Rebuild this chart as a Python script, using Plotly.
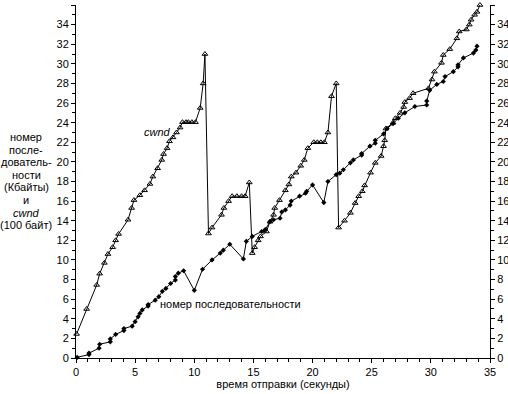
import plotly.graph_objects as go

cwnd_t = [0.05, 0.9, 1.75, 2.0, 2.4, 2.7, 3.1, 3.35, 3.6, 4.4, 4.7, 4.9, 5.4, 5.8, 6.25, 6.5,
          6.9, 7.25, 7.4, 7.7, 7.9, 8.2, 8.5, 8.8, 9.0, 9.3, 9.5, 9.8, 10.1, 10.5, 10.75, 10.9,
          11.2, 11.5, 12.3, 12.5, 12.9, 13.2, 13.6, 14.0, 14.3, 14.65,
          14.9, 15.1, 15.4, 15.6, 16.1, 16.4, 16.7, 16.8, 17.2, 17.7, 18.0, 18.2, 18.6, 19.0,
          19.3, 19.6, 20.1, 20.4, 20.7, 21.0, 21.3, 21.6, 22.0,
          22.2, 22.7, 23.2, 23.6, 23.9, 24.2, 24.4, 24.9, 25.3, 25.8, 26.0, 26.1, 26.2, 26.8,
          27.0, 27.4, 27.7, 27.8, 28.2, 28.5, 29.8, 30.1, 30.3, 30.9, 31.05, 31.6, 32.2, 32.4,
          33.0, 33.25, 33.4, 33.7, 33.9, 34.15]
cwnd_v = [2.45, 5.0, 7.45, 8.6, 9.7, 10.6, 11.3, 12.0, 12.65, 14.1, 15.3, 16.1, 16.6, 17.1, 17.75, 18.5,
          19.35, 20.2, 20.8, 21.4, 22.1, 22.5, 23.0, 23.5, 24.05, 24.05, 24.05, 24.05, 24.05, 25.5, 28.0, 31.0,
          12.7, 13.3, 14.6, 15.3, 16.0, 16.5, 16.5, 16.5, 16.5, 17.9,
          10.7, 11.3, 12.0, 12.4, 12.9, 13.9, 14.6, 15.3, 16.1, 17.1, 17.7, 18.5, 18.9, 19.6,
          20.2, 21.4, 22.0, 22.0, 22.0, 22.0, 23.0, 26.7, 28.0,
          13.3, 14.0, 14.8, 15.8, 16.5, 17.0, 17.6, 18.9, 19.9, 20.6, 21.6, 22.2, 23.4, 24.0,
          24.45, 25.0, 25.6, 26.1, 26.5, 27.0, 27.5, 28.4, 29.2, 30.1, 30.9, 31.5, 32.6, 33.3,
          33.5, 34.0, 34.5, 35.0, 35.3, 36.0]

seq_t = [0.1, 1.1, 1.1, 1.95, 2.0, 2.9, 2.9, 3.35, 4.05, 4.05, 4.75, 5.0, 5.25, 5.4, 5.6, 6.1, 6.1,
         6.7, 7.0, 7.3, 7.6, 8.0, 8.4, 8.4, 8.65, 9.1, 10.0, 10.7, 11.5, 12.2, 12.45, 13.0, 14.15,
         14.4, 14.9, 15.7, 16.0, 16.4, 16.7, 17.25, 17.4, 17.7, 18.1, 18.2, 18.9, 19.4, 19.5, 20.0,
         20.95, 21.3, 22.0, 22.3, 22.6, 23.2, 23.45, 24.15, 24.15, 24.85, 25.3, 25.3, 26.0, 26.3,
         26.8, 27.25, 27.8, 28.65, 29.65, 29.65, 29.9, 30.5, 31.05, 31.2, 31.9, 32.3, 32.3, 32.75,
         33.6, 33.8, 33.9]
seq_v = [0.07, 0.35, 0.5, 1.0, 1.4, 1.65, 1.95, 2.4, 2.8, 3.0, 3.25, 3.7, 4.2, 4.55, 4.9, 5.3, 5.45,
         5.9, 6.25, 6.8, 7.1, 7.6, 7.95, 8.3, 8.65, 8.9, 6.9, 9.05, 10.0, 10.7, 11.0, 11.6, 10.1,
         11.9, 12.4, 12.9, 13.1, 13.9, 14.1, 14.25, 14.9, 15.1, 15.6, 16.0, 16.5, 16.8, 17.0, 17.65,
         15.85, 18.0, 18.7, 18.85, 19.2, 19.9, 20.2, 20.7, 20.85, 21.6, 21.9, 22.2, 22.85, 23.4,
         23.9, 24.45, 25.0, 25.65, 25.8, 26.2, 27.3, 27.9, 28.2, 28.7, 29.2, 29.7, 29.9, 30.6,
         31.1, 31.4, 31.8]

x_ticks = [0, 5, 10, 15, 20, 25, 30, 35]
y_ticks = list(range(0, 37, 2))

y_title_lines = ["номер", "после-", "дователь-", "ности", "(Кбайты)", "и", "<i>cwnd</i>", "(100 байт)"]

FONT = "Liberation Sans, Arial, sans-serif"
W, H = 508, 394
ML, MR, MT, MB = 76, 18, 5, 36
PW, PH = W - ML - MR, H - MT - MB

fig = go.Figure()
fig.add_trace(go.Scatter(x=cwnd_t, y=cwnd_v, mode="lines+markers",
                         line=dict(color="black", width=1),
                         marker=dict(symbol="triangle-up-open", size=5, color="black",
                                     line=dict(width=1, color="black")),
                         showlegend=False, cliponaxis=False))
fig.add_trace(go.Scatter(x=seq_t, y=seq_v, mode="lines+markers",
                         line=dict(color="black", width=1),
                         marker=dict(symbol="diamond", size=4, color="black"),
                         showlegend=False, cliponaxis=False))
fig.add_trace(go.Scatter(x=[0], y=[0], yaxis="y2", mode="markers",
                         marker=dict(opacity=0), showlegend=False, hoverinfo="skip"))

axis_common = dict(showgrid=False, zeroline=False, showline=True, linecolor="black",
                   linewidth=1, ticks="outside", ticklen=4, tickcolor="black", automargin=False,
                   tickfont=dict(family=FONT, size=11, color="black"))

fig.update_layout(
    width=W, height=H,
    margin=dict(l=ML, r=MR, t=MT, b=MB, autoexpand=False),
    paper_bgcolor="white", plot_bgcolor="white",
    font=dict(family=FONT, size=11, color="black"),
    xaxis=dict(range=[0, 35], tickvals=x_ticks,
               minor=dict(dtick=1, ticks="outside", ticklen=3, tickcolor="black"),
               title=dict(text="время отправки (секунды)", font=dict(size=11), standoff=3),
               **axis_common),
    yaxis=dict(range=[0, 36], tickvals=y_ticks,
               minor=dict(dtick=1, ticks="outside", ticklen=3, tickcolor="black"),
               **axis_common),
    yaxis2=dict(range=[0, 36], tickvals=y_ticks, overlaying="y", side="right",
                minor=dict(dtick=1, ticks="outside", ticklen=3, tickcolor="black"),
                **axis_common),
)

# multi-line y title, one annotation per line for tight line spacing
for i, line in enumerate(y_title_lines):
    py = 137 + 12.6 * i
    fig.add_annotation(xref="paper", yref="paper", x=(26 - ML) / PW, y=(H - MB - py) / PH,
                       xanchor="center", yanchor="middle", text=line, showarrow=False,
                       font=dict(family=FONT, size=11, color="black"))

fig.add_annotation(x=6.9, y=23.05, text="<i>cwnd</i>", showarrow=False,
                   font=dict(family=FONT, size=11, color="black"))
fig.add_annotation(x=13.1, y=5.5, text="номер последовательности", showarrow=False,
                   font=dict(family=FONT, size=11, color="black"))

fig.write_html("out.html", config={"displayModeBar": False},
               post_script="document.body.style.margin='0px';document.body.style.overflow='hidden';")
